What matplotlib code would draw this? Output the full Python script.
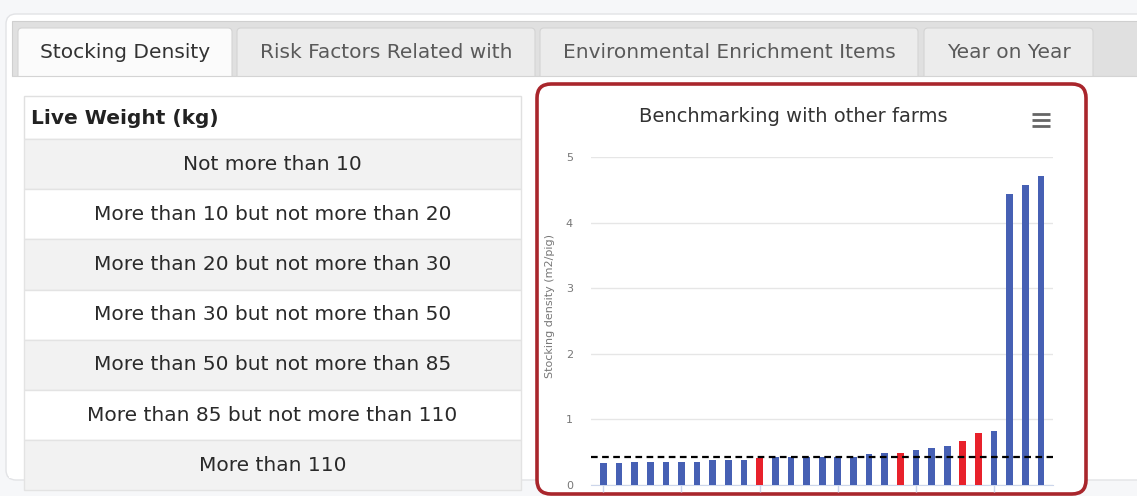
import numpy as np
import matplotlib
matplotlib.use("Agg")
import matplotlib.pyplot as plt
from matplotlib.patches import Rectangle, FancyBboxPatch

# ---- data ----
tab_names = ["Stocking Density", "Risk Factors Related with",
             "Environmental Enrichment Items", "Year on Year"]
table_header = "Live Weight (kg)"
weight_classes = ["Not more than 10",
                  "More than 10 but not more than 20",
                  "More than 20 but not more than 30",
                  "More than 30 but not more than 50",
                  "More than 50 but not more than 85",
                  "More than 85 but not more than 110",
                  "More than 110"]
chart_title = "Benchmarking with other farms"
y_label = "Stocking density (m2/pig)"
farm_density = [0.34, 0.33, 0.355, 0.355, 0.355, 0.355, 0.355, 0.375, 0.385, 0.385,
                0.405, 0.42, 0.42, 0.42, 0.42, 0.42, 0.42, 0.48, 0.49, 0.49,
                0.53, 0.56, 0.59, 0.67, 0.80, 0.83, 4.44, 4.57, 4.71]
highlight_idx = [10, 19, 23, 24]   # red bars
reference_line = 0.42
y_ticks = [0, 1, 2, 3, 4, 5]

W, H = 1137, 496
fig = plt.figure(figsize=(W / 100, H / 100), dpi=100, facecolor="#f6f7f9")

# background axes in pixel coords (y down)
bg = fig.add_axes([0, 0, 1, 1])
bg.set_xlim(0, W)
bg.set_ylim(H, 0)
bg.axis("off")

# outer panel
bg.add_patch(FancyBboxPatch((6, 14), W + 20, 466, boxstyle="round,pad=0,rounding_size=10",
                            fc="white", ec="#e2e3e6", lw=1))
# tab bar
bg.add_patch(Rectangle((12, 21), W, 55, fc="#e0e0e0", ec="#cfcfcf", lw=0.8))

tab_x = [(18, 232), (237, 535), (540, 918), (924, 1093)]
for i, (name, (x0, x1)) in enumerate(zip(tab_names, tab_x)):
    active = i == 0
    bg.add_patch(FancyBboxPatch((x0, 28), x1 - x0, 52,
                                boxstyle="round,pad=0,rounding_size=4",
                                fc="#fbfbfb" if active else "#ececec",
                                ec="#d4d4d4", lw=0.8, zorder=2))
    bg.text((x0 + x1) / 2, 52, name, ha="center", va="center", fontsize=14.5,
            color="#333333" if active else "#5a5a5a", zorder=3)
# white content area under tabs
bg.add_patch(Rectangle((9, 76), W, 402, fc="white", ec="none", zorder=2))
bg.plot([12, W], [76, 76], color="#d4d4d4", lw=0.8, zorder=3)

# table
tx0, tx1 = 24, 521
bg.add_patch(Rectangle((tx0, 96), tx1 - tx0, 43, fc="white", ec="#e0e0e0", lw=1, zorder=3))
bg.text(31, 118, table_header, ha="left", va="center", fontsize=14.5,
        fontweight="bold", color="#222222", zorder=4)
row_h = 50.2
for i, label in enumerate(weight_classes):
    y0 = 139 + i * row_h
    bg.add_patch(Rectangle((tx0, y0), tx1 - tx0, row_h,
                           fc="#f2f2f2" if i % 2 == 0 else "white",
                           ec="#e3e3e3", lw=1, zorder=3))
    bg.text((tx0 + tx1) / 2, y0 + row_h / 2, label, ha="center", va="center",
            fontsize=14.5, color="#2a2a2a", zorder=4)

# red highlight frame around the chart
bg.add_patch(FancyBboxPatch((537, 84), 549, 410, boxstyle="round,pad=0,rounding_size=14",
                            fc="white", ec="#a9262c", lw=2.6, zorder=3))

# chart title and menu icon
bg.text(793, 117, chart_title, ha="center", va="center", fontsize=14,
        color="#333333", zorder=5)
for yy in [113.5, 119.5, 125.5]:
    bg.plot([1032, 1050], [yy, yy], color="#666666", lw=2, solid_capstyle="butt", zorder=5)

# ---- chart ----
left, right, top, bottom = 591, 1053, 157, 485
ax = fig.add_axes([left / W, (H - bottom) / H, (right - left) / W, (bottom - top) / H])
ax.set_zorder(5)
ax.patch.set_alpha(0)

x = np.arange(len(farm_density))
colors = ["#e8212b" if i in highlight_idx else "#4660b4" for i in x]
ax.bar(x, farm_density, width=0.43, color=colors, zorder=3)
ax.axhline(reference_line, color="black", lw=1.6, ls=(0, (3, 2)), zorder=4)

ax.set_ylim(0, 5)
ax.set_xlim(-0.79, len(farm_density) - 1 + 0.77)
ax.set_yticks(y_ticks)
ax.yaxis.grid(True, color="#e6e6e6", lw=1)
ax.set_axisbelow(True)
ax.set_xticks(x[::5])
ax.set_xticklabels([])
ax.tick_params(axis="x", length=5, color="#ccd6eb", width=1)
ax.tick_params(axis="y", length=0, pad=13, labelsize=8, labelcolor="#777777")
for s in ["top", "right", "left"]:
    ax.spines[s].set_visible(False)
ax.spines["bottom"].set_color("#ccd6eb")
ax.set_ylabel(y_label, fontsize=8, color="#777777", va="center")
ax.yaxis.set_label_coords((550 - left) / (right - left), (bottom - 306.5) / (bottom - top))

fig.savefig("out.png", dpi=100, facecolor=fig.get_facecolor())
